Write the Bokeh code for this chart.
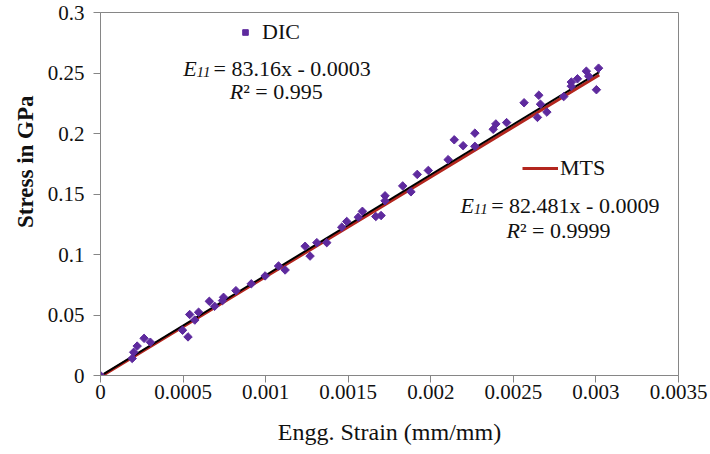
import numpy as np
from bokeh.plotting import figure
from bokeh.models import Range1d, FixedTicker, Legend, LegendItem, Label, Title
from bokeh.embed import file_html
from bokeh.resources import INLINE

# ---------------- data ----------------
dic_strain = [0.0, 0.000192, 0.000201, 0.000222, 0.000264, 0.000302, 0.000497, 0.000530,
              0.000540, 0.000571, 0.000594, 0.000659, 0.000691, 0.000739, 0.000745, 0.000820,
              0.000913, 0.000997, 0.001078, 0.001118, 0.001239, 0.001269, 0.001310, 0.001370,
              0.001461, 0.001491, 0.001561, 0.001586, 0.001667, 0.001699, 0.001723, 0.001723,
              0.001830, 0.001880, 0.001918, 0.001985, 0.002105, 0.002142, 0.002196, 0.002267,
              0.002267, 0.002378, 0.002394, 0.002459, 0.002565, 0.002646, 0.002654, 0.002664,
              0.002703, 0.002805, 0.002851, 0.002851, 0.002888, 0.002942, 0.002956, 0.003003,
              0.003016]
dic_stress = [0.0, 0.0141, 0.0192, 0.0243, 0.0307, 0.0275, 0.0374, 0.0319,
              0.0504, 0.0458, 0.0523, 0.0613, 0.0572, 0.0619, 0.0646, 0.0701,
              0.0758, 0.0823, 0.0905, 0.0872, 0.1068, 0.0987, 0.1098, 0.1098,
              0.1226, 0.1273, 0.1308, 0.1357, 0.1314, 0.1322, 0.1485, 0.1444,
              0.1567, 0.1518, 0.1662, 0.1695, 0.1784, 0.1948, 0.1899, 0.2003,
              0.1894, 0.2035, 0.2079, 0.2090, 0.2254, 0.2133, 0.2316, 0.2242,
              0.2177, 0.2305, 0.2425, 0.2391, 0.2452, 0.2515, 0.2474, 0.2362,
              0.2540]

mts_strain = [0.00002, 0.0005, 0.001, 0.0015, 0.002, 0.0025, 0.00302]
mts_stress = [0.0006, 0.0403, 0.0816, 0.1228, 0.1641, 0.2053, 0.2483]

dic_fit_strain = [0.00002, 0.00302]
dic_fit_stress = [0.0013, 0.2508]

x_ticks = [0.0, 0.0005, 0.001, 0.0015, 0.002, 0.0025, 0.003, 0.0035]
x_tick_labels = ["0", "0.0005", "0.001", "0.0015", "0.002", "0.0025", "0.003", "0.0035"]
y_ticks = [0.0, 0.05, 0.1, 0.15, 0.2, 0.25, 0.3]
y_tick_labels = ["0", "0.05", "0.1", "0.15", "0.2", "0.25", "0.3"]

x_title = "Engg. Strain (mm/mm)"
y_title = "Stress in GPa"
dic_name = "DIC"
mts_name = "MTS"
dic_eq = "= 83.16x - 0.0003"
dic_r2 = "\u00b2 = 0.995"
mts_eq = "= 82.481x - 0.0009"
mts_r2 = "\u00b2 = 0.9999"

# ---------------- styling ----------------
FONT = "'Liberation Serif', 'Times New Roman', 'DejaVu Serif', serif"
TXT = "#111111"
GRAY = "#868686"
PURPLE = "#5E2A9E"
RED = "#B3261E"

L, R, T, B = 100, 678, 12, 375
W, H = 710, 454


def sx(px):
    return (px - L) / (R - L) * x_ticks[-1]


def sy(py):
    return (B - py) / (B - T) * y_ticks[-1]


p = figure(width=W, height=H, output_backend="svg", toolbar_location=None, title=None,
           x_range=Range1d(x_ticks[0], x_ticks[-1]), y_range=Range1d(y_ticks[0], y_ticks[-1]),
           min_border_left=L, min_border_right=W - R, min_border_top=T, min_border_bottom=H - B)
p.background_fill_color = "white"
p.border_fill_color = "white"
p.outline_line_color = GRAY
p.outline_line_width = 1
p.xgrid.visible = False
p.ygrid.visible = False

for ax in (p.xaxis[0], p.yaxis[0]):
    ax.axis_line_color = GRAY
    ax.major_tick_line_color = GRAY
    ax.major_tick_out = 7
    ax.major_tick_in = 0
    ax.minor_tick_line_color = None
    ax.major_label_text_font = FONT
    ax.major_label_text_font_size = "21px"
    ax.major_label_text_color = TXT

p.xaxis.ticker = FixedTicker(ticks=x_ticks)
p.xaxis.major_label_overrides = {t: s for t, s in zip(x_ticks, x_tick_labels)}
p.yaxis.ticker = FixedTicker(ticks=y_ticks)
p.yaxis.major_label_overrides = {t: s for t, s in zip(y_ticks, y_tick_labels)}
p.xaxis.major_label_standoff = 2
p.yaxis.major_label_standoff = 9

p.xaxis.axis_label = x_title
p.xaxis.axis_label_text_font = FONT
p.xaxis.axis_label_text_font_size = "24px"
p.xaxis.axis_label_text_font_style = "normal"
p.xaxis.axis_label_text_color = TXT
p.xaxis.axis_label_standoff = 17

# y title as a side title so it can be shifted along the axis like the reference
yt = Title(text=y_title, align="right", offset=83, standoff=14, text_font=FONT,
           text_font_size="23px", text_font_style="bold", text_color=TXT)
p.add_layout(yt, "left")

# ---------------- glyphs ----------------
r_mts = p.line(mts_strain, mts_stress, line_color=RED, line_width=3)
r_fit = p.line(dic_fit_strain, dic_fit_stress, line_color="#000000", line_width=2)
r_dic = p.scatter(dic_strain, dic_stress, marker="square", angle=np.pi / 4, size=6,
                  fill_color=PURPLE, line_color=PURPLE)

# ---------------- legends ----------------
leg_common = dict(background_fill_alpha=0, border_line_alpha=0, padding=0, margin=0,
                  spacing=0, label_text_font=FONT, label_text_font_size="22px",
                  label_text_color=TXT, label_height=20, glyph_height=20)
leg1 = Legend(items=[LegendItem(label=dic_name, renderers=[r_dic])],
              location=(138, B - 45), glyph_width=14, label_standoff=10, **leg_common)
leg2 = Legend(items=[LegendItem(label=mts_name, renderers=[r_mts])],
              location=(422, B - 181), glyph_width=36, label_standoff=2, **leg_common)
p.add_layout(leg1)
p.add_layout(leg2)


# ---------------- annotations ----------------
def add_text(px, py, text, size="22px", style="normal", **kw):
    p.add_layout(Label(x=sx(px), y=sy(py), text=text, text_font=FONT, text_font_size=size,
                       text_font_style=style, text_color=TXT, text_align="left",
                       text_baseline="alphabetic", **kw))


def add_eq(px, py, eq_px, eq):
    add_text(px, py, "E", style="italic")
    add_text(px + 13.3, py + 3.5, "11", size="15px", style="italic")
    add_text(eq_px, py, eq)


add_eq(182.7, 68.3, 213.0, dic_eq)
add_text(229.3, 90.7, "R", style="italic")
add_text(242.7, 90.7, dic_r2)

add_eq(460.0, 205.0, 490.7, mts_eq)
add_text(506.0, 230.0, "R", style="italic")
add_text(519.4, 230.0, mts_r2)

open("out.html", "w").write(file_html(p, INLINE))
